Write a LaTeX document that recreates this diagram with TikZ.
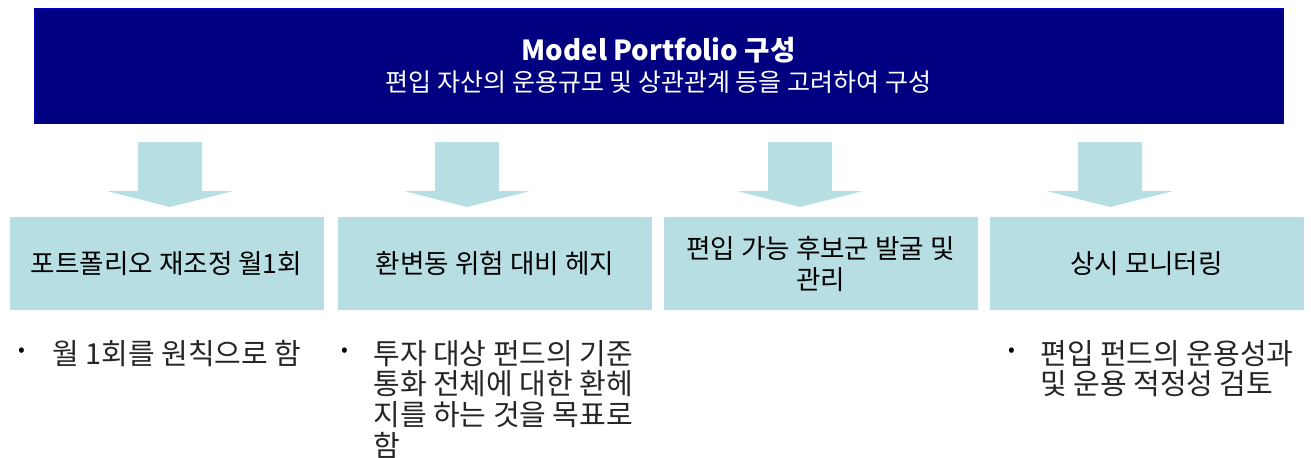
\documentclass[tikz,border=0pt]{standalone}
\usepackage{fontspec}
\setmainfont{Noto Sans CJK KR}
\usetikzlibrary{positioning}
\definecolor{navy}{RGB}{0,0,128}
\definecolor{pale}{RGB}{183,222,226}

\begin{document}
\begin{tikzpicture}[x=0.5pt,y=-0.5pt,
  banner/.style={fill=navy,draw=blue!45!navy,text=white,minimum width=624.5pt,minimum height=57.5pt,align=center,font=\fontsize{12.5}{15.5}\selectfont},
  task/.style={fill=pale,minimum width=157pt,minimum height=46.5pt,inner sep=0pt,align=center,font=\fontsize{13.3}{15.5}\selectfont},
  dot/.style={inner sep=0pt,font=\fontsize{10}{12}\selectfont},
  note/.style={inner sep=0pt,align=left,font=\fontsize{14.5}{15.3}\selectfont,text=black!85}]
\useasboundingbox (0,0) rectangle (1311,457);
\node[banner] (mp) at (658.5,65.5) {{\fontsize{13.8}{15.5}\selectfont\textbf{Model Portfolio 구성}}\\편입 자산의 운용규모 및 상관관계 등을 고려하여 구성};

\foreach \x/\t [count=\i] in {166.5/포트폴리오 재조정 월1회,495/환변동 위험 대비 헤지,820.5/{편입 가능 후보군 발굴 및\\관리},1146.5/상시 모니터링} {
  \node[task] (T\i) at (\x,263.5) {\t};
}
% block arrows
\foreach \x in {170,467,800,1110} {
  \fill[pale] (\x-32,142) -- (\x+32,142) -- (\x+32,191) -- (\x+63,191) -- (\x,207) -- (\x-63,191) -- (\x-32,191) -- cycle;
}

\node[dot] (d1) at (22,352) {•};
\node[note,anchor=north west] (n1) at (52,340) {월 1회를 원칙으로 함};
\node[dot] (d2) at (345,352) {•};
\node[note,anchor=north west] (n2) at (373,340) {투자 대상 펀드의 기준\\통화 전체에 대한 환헤\\지를 하는 것을 목표로\\함};
\node[dot] (d4) at (1012,352) {•};
\node[note,anchor=north west] (n4) at (1040,340) {편입 펀드의 운용성과\\및 운용 적정성 검토};
\end{tikzpicture}
\end{document}
